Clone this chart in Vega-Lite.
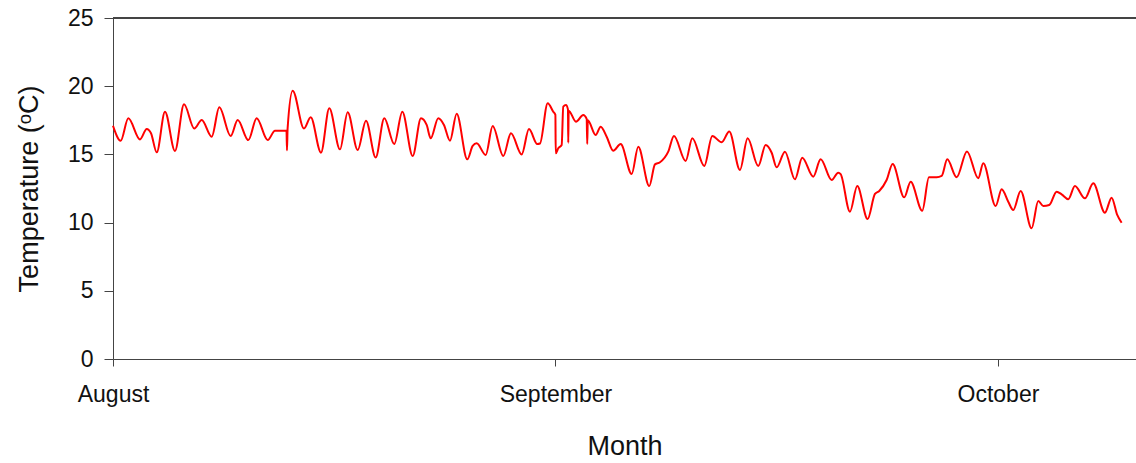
{
  "$schema": "https://vega.github.io/schema/vega-lite/v6.json",
  "width": 1023,
  "height": 341,
  "autosize": {"type": "none"},
  "padding": {"left": 113, "top": 18, "right": 0, "bottom": 104},
  "background": "white",
  "config": {
    "view": {"stroke": null},
    "font": "Liberation Sans",
    "axis": {
      "grid": false,
      "domainColor": "#444444",
      "tickColor": "#444444",
      "labelColor": "#111111",
      "titleColor": "#111111",
      "labelFont": "Liberation Sans",
      "titleFont": "Liberation Sans",
      "titleFontWeight": "normal",
      "labelFontSize": 23,
      "titleFontSize": 27
    }
  },
  "data": {
    "values": [
      {"month": 8.0000, "temp": 17.10},
      {"month": 8.0174, "temp": 16.00},
      {"month": 8.0346, "temp": 17.65},
      {"month": 8.0610, "temp": 16.10},
      {"month": 8.0762, "temp": 16.86},
      {"month": 8.0859, "temp": 16.55},
      {"month": 8.0988, "temp": 15.15},
      {"month": 8.1175, "temp": 18.13},
      {"month": 8.1401, "temp": 15.25},
      {"month": 8.1605, "temp": 18.67},
      {"month": 8.1837, "temp": 16.90},
      {"month": 8.2005, "temp": 17.52},
      {"month": 8.2231, "temp": 16.30},
      {"month": 8.2402, "temp": 18.45},
      {"month": 8.2660, "temp": 16.35},
      {"month": 8.2818, "temp": 17.52},
      {"month": 8.3058, "temp": 16.05},
      {"month": 8.3247, "temp": 17.65},
      {"month": 8.3496, "temp": 16.05},
      {"month": 8.3661, "temp": 16.74},
      {"month": 8.3921, "temp": 16.74},
      {"month": 8.3932, "temp": 15.30},
      {"month": 8.3946, "temp": 16.90},
      {"month": 8.4061, "temp": 19.67},
      {"month": 8.4316, "temp": 16.90},
      {"month": 8.4468, "temp": 17.72},
      {"month": 8.4701, "temp": 15.13},
      {"month": 8.4888, "temp": 18.38},
      {"month": 8.5130, "temp": 15.37},
      {"month": 8.5304, "temp": 18.09},
      {"month": 8.5530, "temp": 15.32},
      {"month": 8.5718, "temp": 17.47},
      {"month": 8.5937, "temp": 14.78},
      {"month": 8.6131, "temp": 17.65},
      {"month": 8.6357, "temp": 15.76},
      {"month": 8.6538, "temp": 18.13},
      {"month": 8.6773, "temp": 14.88},
      {"month": 8.6960, "temp": 17.65},
      {"month": 8.7089, "temp": 17.16},
      {"month": 8.7180, "temp": 16.18},
      {"month": 8.7351, "temp": 17.65},
      {"month": 8.7480, "temp": 17.16},
      {"month": 8.7616, "temp": 16.00},
      {"month": 8.7767, "temp": 17.98},
      {"month": 8.8007, "temp": 14.64},
      {"month": 8.8129, "temp": 15.62},
      {"month": 8.8219, "temp": 15.81},
      {"month": 8.8423, "temp": 14.96},
      {"month": 8.8581, "temp": 17.08},
      {"month": 8.8820, "temp": 14.88},
      {"month": 8.8994, "temp": 16.55},
      {"month": 8.9236, "temp": 15.00},
      {"month": 8.9401, "temp": 16.86},
      {"month": 8.9589, "temp": 15.76},
      {"month": 8.9650, "temp": 15.80},
      {"month": 8.9824, "temp": 18.75},
      {"month": 8.9950, "temp": 18.13},
      {"month": 8.9998, "temp": 17.90},
      {"month": 9.0006, "temp": 15.08},
      {"month": 9.0063, "temp": 15.45},
      {"month": 9.0140, "temp": 15.69},
      {"month": 9.0176, "temp": 18.50},
      {"month": 9.0237, "temp": 18.62},
      {"month": 9.0282, "temp": 18.30},
      {"month": 9.0289, "temp": 15.86},
      {"month": 9.0298, "temp": 18.20},
      {"month": 9.0463, "temp": 17.40},
      {"month": 9.0628, "temp": 17.89},
      {"month": 9.0705, "temp": 17.60},
      {"month": 9.0718, "temp": 15.76},
      {"month": 9.0730, "temp": 17.50},
      {"month": 9.0908, "temp": 16.42},
      {"month": 9.1021, "temp": 17.03},
      {"month": 9.1157, "temp": 16.30},
      {"month": 9.1306, "temp": 15.27},
      {"month": 9.1473, "temp": 15.76},
      {"month": 9.1722, "temp": 13.56},
      {"month": 9.1871, "temp": 15.56},
      {"month": 9.2120, "temp": 12.68},
      {"month": 9.2249, "temp": 14.27},
      {"month": 9.2362, "temp": 14.42},
      {"month": 9.2549, "temp": 15.20},
      {"month": 9.2678, "temp": 16.35},
      {"month": 9.2942, "temp": 14.52},
      {"month": 9.3092, "temp": 16.18},
      {"month": 9.3363, "temp": 14.15},
      {"month": 9.3544, "temp": 16.35},
      {"month": 9.3756, "temp": 15.89},
      {"month": 9.3928, "temp": 16.67},
      {"month": 9.4169, "temp": 13.86},
      {"month": 9.4343, "temp": 16.18},
      {"month": 9.4583, "temp": 14.15},
      {"month": 9.4750, "temp": 15.69},
      {"month": 9.4886, "temp": 15.12},
      {"month": 9.4999, "temp": 14.05},
      {"month": 9.5186, "temp": 15.20},
      {"month": 9.5412, "temp": 13.17},
      {"month": 9.5577, "temp": 14.76},
      {"month": 9.5826, "temp": 13.37},
      {"month": 9.5993, "temp": 14.64},
      {"month": 9.6242, "temp": 13.12},
      {"month": 9.6391, "temp": 13.66},
      {"month": 9.6445, "temp": 13.56},
      {"month": 9.6655, "temp": 10.80},
      {"month": 9.6820, "temp": 12.68},
      {"month": 9.7055, "temp": 10.26},
      {"month": 9.7220, "temp": 12.10},
      {"month": 9.7318, "temp": 12.32},
      {"month": 9.7484, "temp": 13.12},
      {"month": 9.7620, "temp": 14.30},
      {"month": 9.7882, "temp": 11.85},
      {"month": 9.8027, "temp": 13.00},
      {"month": 9.8289, "temp": 10.87},
      {"month": 9.8441, "temp": 13.32},
      {"month": 9.8615, "temp": 13.32},
      {"month": 9.8728, "temp": 13.42},
      {"month": 9.8854, "temp": 14.64},
      {"month": 9.9067, "temp": 13.32},
      {"month": 9.9300, "temp": 15.22},
      {"month": 9.9555, "temp": 13.25},
      {"month": 9.9668, "temp": 14.35},
      {"month": 9.9948, "temp": 11.22},
      {"month": 10.0084, "temp": 12.44},
      {"month": 10.0233, "temp": 11.53},
      {"month": 10.0346, "temp": 10.92},
      {"month": 10.0513, "temp": 12.32},
      {"month": 10.0761, "temp": 9.58},
      {"month": 10.0911, "temp": 11.58},
      {"month": 10.1024, "temp": 11.22},
      {"month": 10.1159, "temp": 11.29},
      {"month": 10.1326, "temp": 12.27},
      {"month": 10.1439, "temp": 12.07},
      {"month": 10.1589, "temp": 11.71},
      {"month": 10.1740, "temp": 12.68},
      {"month": 10.1966, "temp": 11.78},
      {"month": 10.2154, "temp": 12.88},
      {"month": 10.2418, "temp": 10.73},
      {"month": 10.2569, "temp": 11.83},
      {"month": 10.2696, "temp": 10.56},
      {"month": 10.2795, "temp": 9.99}
    ]
  },
  "encoding": {
    "x": {
      "field": "month",
      "type": "quantitative",
      "scale": {"domain": [8, 10.312], "nice": false, "zero": false},
      "axis": {
        "values": [8, 9, 10],
        "labelExpr": "datum.value == 8 ? 'August' : datum.value == 9 ? 'September' : 'October'",
        "tickSize": 7,
        "labelPadding": 17,
        "labelFlush": false,
        "title": "Month",
        "titlePadding": 27
      }
    },
    "y": {
      "field": "temp",
      "type": "quantitative",
      "scale": {"domain": [0, 25], "nice": false},
      "axis": {
        "values": [0, 5, 10, 15, 20, 25],
        "tickSize": 9,
        "labelPadding": 11,
        "title": "Temperature (ᵒC)",
        "titlePadding": 24
      }
    }
  },
  "layer": [
    {
      "mark": {"type": "rule", "color": "#444444", "strokeWidth": 1},
      "encoding": {"y": {"datum": 25}, "x": null}
    },
    {
      "mark": {"type": "line", "color": "#ff0000", "strokeWidth": 2, "interpolate": "monotone"}
    }
  ]
}
